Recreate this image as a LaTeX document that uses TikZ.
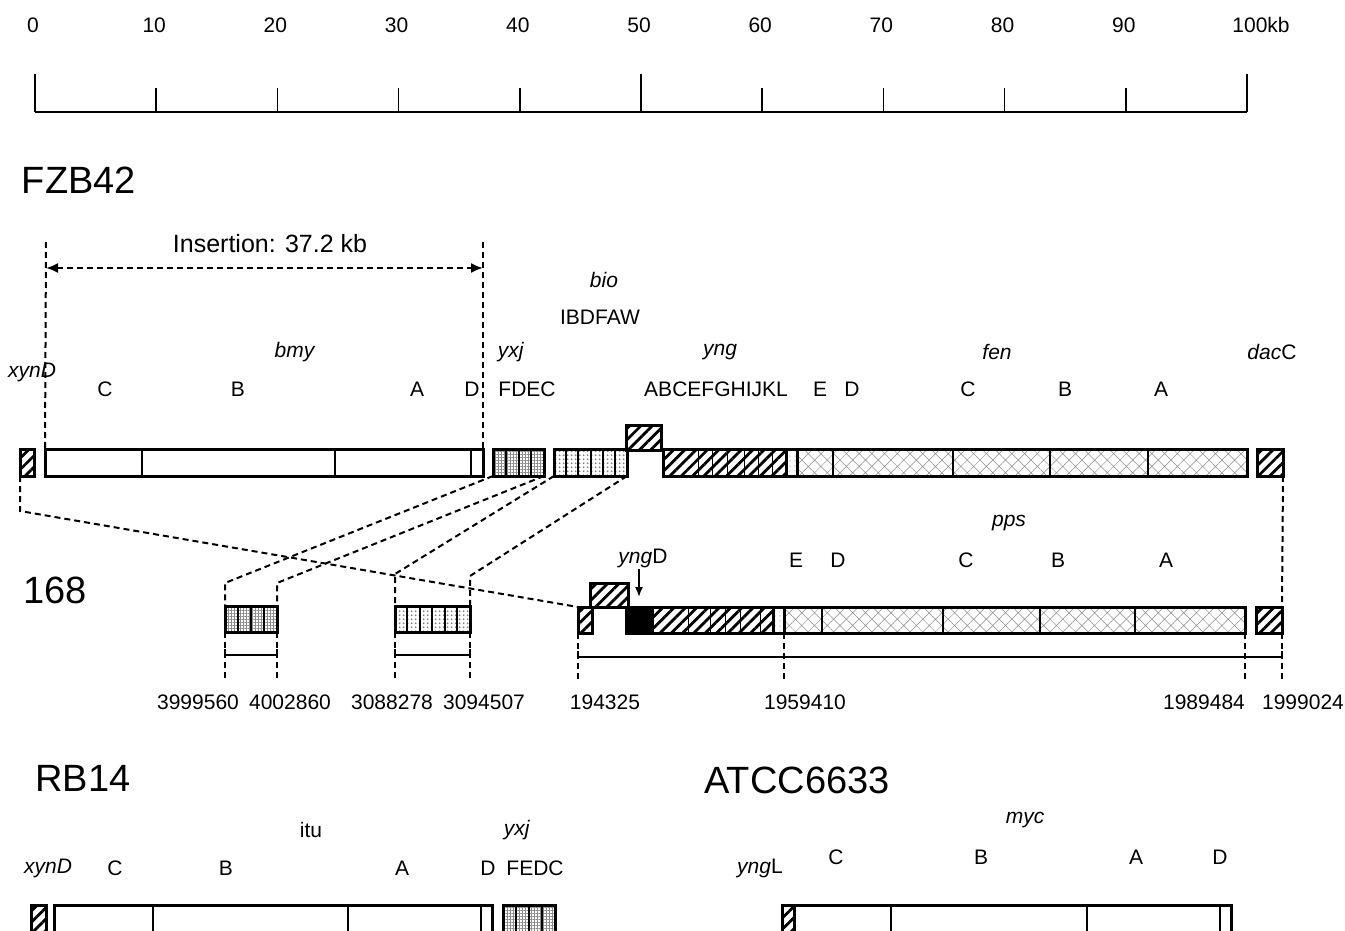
\documentclass[tikz,border=0pt]{standalone}
\usepackage{fontspec}
\setmainfont{Liberation Sans}
\usetikzlibrary{arrows.meta,patterns.meta,positioning}

\tikzset{
  gbox/.style={draw,line width=3pt,inner sep=0pt,outer sep=0pt,anchor=north west},
  plainbox/.style={gbox},
  hatchbox/.style={gbox,pattern={Lines[angle=45,distance=8pt,line width=2.8pt]}},
  gridbox/.style={gbox,pattern={Hatch[angle=0,distance=3pt,line width=0.5pt]},pattern color=black!45},
  dotbox/.style={gbox,pattern={Dots[distance=4pt,radius=1.2pt]},pattern color=black!50},
  crossbox/.style={gbox,pattern={Hatch[angle=45,distance=9pt,line width=0.5pt]},pattern color=black!45},
  speckbox/.style={gbox,pattern={Dots[distance=5pt,radius=0.6pt]},pattern color=black!40},
  blackbox/.style={gbox,fill=black},
  divline/.style={line width=2.2pt},
  thindiv/.style={line width=0.9pt},
  conn/.style={line width=2pt,dash pattern=on 6pt off 4pt},
  lab/.style={font=\fontsize{21}{24}\selectfont,inner sep=1pt},
  numlab/.style={lab,inner xsep=1pt,inner ysep=14pt},
  title/.style={font=\fontsize{38}{42}\selectfont,inner sep=1pt}
}
\newcommand{\genebox}[6]{%
  \node[#1,minimum width={(#5-#3)*1pt},minimum height={(#6-#4)*1pt}] (#2) at (#3,#4) {};}

\begin{document}
\begin{tikzpicture}[x=1pt,y=-1pt]
    \useasboundingbox (0,0) rectangle (1345,931);
    % scale bar
    \draw[line width=1.6pt] (35,112) -- (1247,112);
    \foreach \k in {0,...,10}{
        \pgfmathsetmacro{\tx}{35+121.2*\k}
        \pgfmathsetmacro{\ty}{mod(\k,5)==0 ? 74 : 88}
        \draw[line width=1.6pt] (\tx,\ty) -- (\tx,112);
    }
    \foreach \k [evaluate=\k as \v using int(10*\k)] in {0,...,9}
        \node[lab] (s\k) at ({33+121.2*\k},25) {\v};
    \node[lab] (s10) at (1261,25) {100kb};

    % strain names
    \node[title] (fzb) at (79,180) {FZB42};
    \node[title] (bs168) at (55,590) {168};
    \node[title] (rb) at (83,778) {RB14};
    \node[title] (atcc) at (797,780) {ATCC6633};

    % FZB42
    \coordinate (insL) at (46,242);
    \coordinate (insR) at (483,242);
    \node[lab,font=\fontsize{25}{28}\selectfont] (ins) at (270,244) {Insertion: 37.2 kb};
    \node[lab] (lbio) at (604,280) {\textit{bio}};
    \node[lab] (libd) at (600,317) {IBDFAW};
    \node[lab] (lbmy) at (295,352) {\textit{bmy}};
    \node[lab] (lyxj) at (511,352) {\textit{yxj}};
    \node[lab] (lyng) at (720,352) {\textit{yng}};
    \node[lab] (lfen) at (997,352) {\textit{fen}};
    \node[lab] (ldac) at (1272,352) {\textit{dac}C};
    \node[lab] (lxyn) at (32,372) {\textit{xynD}};
    \node[lab] (fc) at (105,389) {C};
    \node[lab] (fb) at (238,389) {B};
    \node[lab] (fa) at (417,389) {A};
    \node[lab] (fd) at (472,389) {D};
    \node[lab] (fyx) at (527,389) {FDEC};
    \node[lab] (fyn) at (716,389) {ABCEFGHIJKL};
    \node[lab] (fe2) at (820,389) {E};
    \node[lab] (fd2) at (852,389) {D};
    \node[lab] (fc2) at (968,389) {C};
    \node[lab] (fb2) at (1065,389) {B};
    \node[lab] (fa2) at (1161,389) {A};

    \genebox{hatchbox}{fxyn}{20}{449}{34}{476}
    \genebox{plainbox}{fbmy}{45}{449}{483}{476}
    \genebox{gridbox}{fyxj}{493}{449}{544}{476}
    \genebox{dotbox}{fbio}{554}{449}{627}{476}
    \genebox{hatchbox}{fup}{626}{425}{661}{450}
    \genebox{hatchbox}{fyng}{663}{449}{786}{476}
    \genebox{speckbox}{fsml}{786}{449}{797}{476}
    \genebox{crossbox}{ffen}{797}{449}{1247}{476}
    \genebox{hatchbox}{fdac}{1257}{449}{1283}{476}
    \foreach \d in {142,335,471,506,519,531,566,578,591,603,615,833,953,1050,1148}
        \draw[divline] (\d,449) -- (\d,476);
    \foreach \d in {698,712,727,744,758,772}
        \draw[thindiv] (\d,449) -- (\d,476);

    \draw[conn] (insL) -- (fbmy.north west);
    \draw[conn] (insR) -- (fbmy.north east);
    \draw[conn,{Latex[length=12pt,width=10pt]}-{Latex[length=12pt,width=10pt]}]
        ([yshift=-26pt]insL) -- ([yshift=-26pt]insR);

    % 168
    \node[lab] (lpps) at (1009,523) {\textit{pps}};
    \node[lab] (lyngd) at (643,558) {\textit{yng}D};
    \node[lab] (se) at (796,560) {E};
    \node[lab] (sd) at (838,560) {D};
    \node[lab] (sc) at (966,560) {C};
    \node[lab] (sb) at (1058,560) {B};
    \node[lab] (sa) at (1166,560) {A};

    \genebox{gridbox}{syxj}{225}{606}{277}{632}
    \genebox{dotbox}{sbio}{395}{606}{470}{632}
    \genebox{hatchbox}{sxyn}{578}{607}{592}{633}
    \genebox{hatchbox}{sup}{590}{583}{628}{607}
    \genebox{blackbox}{sblk}{626}{607}{652}{633}
    \genebox{hatchbox}{syng}{652}{607}{773}{633}
    \genebox{speckbox}{ssml}{773}{607}{784}{633}
    \genebox{crossbox}{spps}{784}{607}{1245}{633}
    \genebox{hatchbox}{sdac}{1256}{607}{1282}{633}
    \foreach \d in {238,251,264,407,420,432,445,457}
        \draw[divline] (\d,606) -- (\d,632);
    \foreach \d in {822,943,1040,1135}
        \draw[divline] (\d,607) -- (\d,633);
    \foreach \d in {688,710,725,740,760}
        \draw[thindiv] (\d,607) -- (\d,633);

    \draw[line width=1.6pt,-{Latex[length=10pt,width=8pt]}]
        (lyngd.south -| sblk.north) -- ([yshift=10pt]sblk.north);

    % FZB42 to 168
    \draw[conn] (fxyn.south west) -- ++(0,35) -- (sxyn.north west);
    \draw[conn] (fyxj.south west) -- ([yshift=23pt]syxj.north west) -- (syxj.north west);
    \draw[conn] (fyxj.south east) -- ([yshift=23pt]syxj.north east) -- (syxj.north east);
    \draw[conn] (fbio.south west) -- ([yshift=32pt]sbio.north west) -- (sbio.north west);
    \draw[conn] (fbio.south east) -- ([yshift=30pt]sbio.north east) -- (sbio.north east);
    \draw[conn] (fdac.south east) -- (sdac.north east);

    % coordinates in 168
    \node[numlab] (n1) at (198,702) {3999560};
    \node[numlab] (n2) at (290,702) {4002860};
    \node[numlab] (n3) at (392,702) {3088278};
    \node[numlab] (n4) at (484,702) {3094507};
    \node[numlab] (n5) at (605,702) {194325};
    \node[numlab] (n6) at (805,702) {1959410};
    \node[numlab] (n7) at (1204,702) {1989484};
    \node[numlab] (n8) at (1303,702) {1999024};
    \draw[conn] (syxj.south west) -- (syxj.south west |- n1.north);
    \draw[conn] (syxj.south east) -- (syxj.south east |- n2.north);
    \draw[conn] (sbio.south west) -- (sbio.south west |- n3.north);
    \draw[conn] (sbio.south east) -- (sbio.south east |- n4.north);
    \draw[conn] (sxyn.south west) -- (sxyn.south west |- n5.north);
    \draw[conn] (spps.south west) -- (spps.south west |- n6.north);
    \draw[conn] (spps.south east) -- (spps.south east |- n7.north);
    \draw[conn] (sdac.south east) -- (sdac.south east |- n8.north);
    \draw[line width=1.5pt] ([yshift=-17pt]syxj.south west) -- ([yshift=-23pt]syxj.south west)
        -- ([yshift=-23pt]syxj.south east) -- ([yshift=-17pt]syxj.south east);
    \draw[line width=1.5pt] ([yshift=-17pt]sbio.south west) -- ([yshift=-23pt]sbio.south west)
        -- ([yshift=-23pt]sbio.south east) -- ([yshift=-17pt]sbio.south east);
    \draw[line width=1.5pt] ([yshift=-18pt]sxyn.south west) -- ([yshift=-24pt]sxyn.south west)
        -- ([yshift=-24pt]sdac.south east) -- ([yshift=-18pt]sdac.south east);

    % RB14
    \node[lab] (litu) at (311,830) {itu};
    \node[lab] (ryx) at (517,830) {\textit{yxj}};
    \node[lab] (rxn) at (48,868) {\textit{xynD}};
    \node[lab] (rc) at (115,868) {C};
    \node[lab] (rb2) at (226,868) {B};
    \node[lab] (ra) at (402,868) {A};
    \node[lab] (rd) at (488,868) {D};
    \node[lab] (rfe) at (535,868) {FEDC};
    \genebox{hatchbox}{rxyn}{31}{905}{46}{940}
    \genebox{plainbox}{ritu}{54}{905}{492}{940}
    \genebox{gridbox}{ryxj}{503}{905}{555}{940}
    \foreach \d in {153,348,481,516,529,542}
        \draw[divline] (\d,905) -- (\d,940);

    % ATCC6633
    \node[lab] (lmyc) at (1025,820) {\textit{myc}};
    \node[lab] (ac) at (836,857) {C};
    \node[lab] (ab) at (981,857) {B};
    \node[lab] (aa) at (1136,857) {A};
    \node[lab] (ad) at (1220,857) {D};
    \node[lab] (ayl) at (760,868) {\textit{yng}L};
    \genebox{hatchbox}{axyn}{782}{905}{794}{940}
    \genebox{plainbox}{amyc}{794}{905}{1231}{940}
    \foreach \d in {891,1087,1220}
        \draw[divline] (\d,905) -- (\d,940);
\end{tikzpicture}
\end{document}
